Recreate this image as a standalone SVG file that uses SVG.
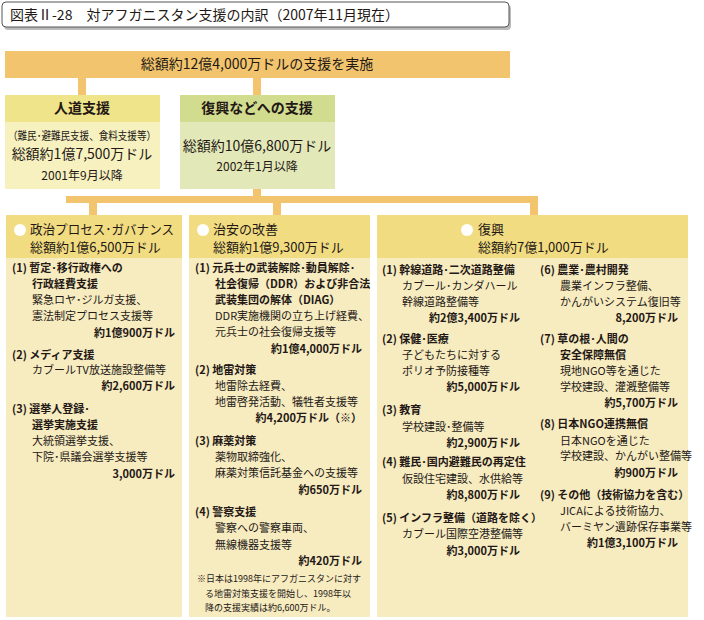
<svg xmlns="http://www.w3.org/2000/svg" width="704" height="620" viewBox="0 0 704 620">
<style>
text{font-family:"Noto Sans CJK JP","Noto Sans",sans-serif;fill:#231815}
.h{font-size:14px}
.hh{font-size:13px}
.b{font-size:11px;font-weight:bold}
.n{font-size:11px}
.r{font-size:11px;font-weight:bold;text-anchor:end}
.m{text-anchor:middle}
.s{font-size:9px}
.hdr{fill:#f2dc82}
.body{fill:#f7ebc0}
.conn{fill:#f2c46e}
</style>
<rect width="704" height="620" fill="#fff"/>
<g id="title">
<rect x="4" y="5" width="507" height="25" rx="4" fill="#bbb"/>
<rect x="2" y="2" width="507" height="25" rx="4" fill="#fff" stroke="#555" stroke-width="1"/>
<text x="10" y="20" class="h">図表Ⅱ-28　対アフガニスタン支援の内訳（2007年11月現在）</text>
</g>
<g id="connectors">
<rect x="78" y="78" width="8" height="17" class="conn"/>
<rect x="253" y="78" width="8" height="17" class="conn"/>
<rect x="253" y="189" width="8" height="10" class="conn"/>
<rect x="66" y="196" width="472" height="7" class="conn"/>
<rect x="89" y="196" width="8" height="19" class="conn"/>
<rect x="273" y="196" width="8" height="19" class="conn"/>
<rect x="530" y="196" width="8" height="19" class="conn"/>
</g>
<g id="total">
<rect x="5" y="51" width="505" height="27" fill="#f2c46e"/>
<text x="257" y="69" class="h m">総額約12億4,000万ドルの支援を実施</text>
</g>
<g id="humanitarian">
<rect x="5" y="95" width="155" height="94" fill="#f7f1c0"/>
<rect x="5" y="95" width="155" height="27" fill="#f0e48a"/>
<text x="82" y="113" class="h m" font-weight="bold">人道支援</text>
<text x="82" y="140" class="m" font-size="11" textLength="148" lengthAdjust="spacingAndGlyphs">（難民･避難民支援、食料支援等）</text>
<text x="82" y="159" class="h m">総額約1億7,500万ドル</text>
<text x="82" y="180" class="m" font-size="12">2001年9月以降</text>
</g>
<g id="reconstruction">
<rect x="180" y="95" width="155" height="94" fill="#e3e8b8"/>
<rect x="180" y="95" width="155" height="27" fill="#d2dc8f"/>
<text x="257" y="113" class="h m" font-weight="bold">復興などへの支援</text>
<text x="257" y="151" class="h m">総額約10億6,800万ドル</text>
<text x="257" y="171" class="m" font-size="12">2002年1月以降</text>
</g>
<g id="governance">
<rect x="6" y="215" width="176" height="402" class="body"/>
<rect x="6" y="215" width="176" height="43" class="hdr"/>
<circle cx="20" cy="230" r="6" fill="#fff"/>
<text x="30" y="234" class="hh" textLength="144" lengthAdjust="spacingAndGlyphs">政治プロセス･ガバナンス</text>
<text x="30" y="252" class="hh">総額約1億6,500万ドル</text>
<text x="12" y="272" class="b">(1) 暫定･移行政権への</text>
<text x="32" y="288" class="b">行政経費支援</text>
<text x="32" y="304" class="n">緊急ロヤ･ジルガ支援、</text>
<text x="32" y="320" class="n">憲法制定プロセス支援等</text>
<text x="175" y="337" class="r">約1億900万ドル</text>
<text x="12" y="359" class="b">(2) メディア支援</text>
<text x="32" y="374" class="n">カブールTV放送施設整備等</text>
<text x="175" y="390" class="r">約2,600万ドル</text>
<text x="12" y="413" class="b">(3) 選挙人登録･</text>
<text x="32" y="429" class="b">選挙実施支援</text>
<text x="32" y="445" class="n">大統領選挙支援、</text>
<text x="32" y="461" class="n">下院･県議会選挙支援等</text>
<text x="175" y="478" class="r">3,000万ドル</text>
</g>
<g id="security">
<rect x="189" y="215" width="181" height="402" class="body"/>
<rect x="189" y="215" width="181" height="43" class="hdr"/>
<circle cx="203" cy="230" r="6" fill="#fff"/>
<text x="213" y="234" class="hh">治安の改善</text>
<text x="213" y="252" class="hh">総額約1億9,300万ドル</text>
<text x="195" y="272" class="b">(1) 元兵士の武装解除･動員解除･</text>
<text x="215" y="288" class="b">社会復帰（DDR）および非合法</text>
<text x="215" y="304" class="b">武装集団の解体（DIAG）</text>
<text x="215" y="320" class="n">DDR実施機関の立ち上げ経費、</text>
<text x="215" y="336" class="n">元兵士の社会復帰支援等</text>
<text x="362" y="353" class="r">約1億4,000万ドル</text>
<text x="195" y="374" class="b">(2) 地雷対策</text>
<text x="215" y="390" class="n">地雷除去経費、</text>
<text x="215" y="406" class="n">地雷啓発活動、犠牲者支援等</text>
<text x="362" y="422" class="r">約4,200万ドル（※）</text>
<text x="195" y="445" class="b">(3) 麻薬対策</text>
<text x="215" y="461" class="n">薬物取締強化、</text>
<text x="215" y="477" class="n">麻薬対策信託基金への支援等</text>
<text x="362" y="494" class="r">約650万ドル</text>
<text x="195" y="516" class="b">(4) 警察支援</text>
<text x="215" y="532" class="n">警察への警察車両、</text>
<text x="215" y="549" class="n">無線機器支援等</text>
<text x="362" y="565" class="r">約420万ドル</text>
<text x="197" y="582" class="s">※日本は1998年にアフガニスタンに対す</text>
<text x="205" y="597" class="s">る地雷対策支援を開始し、1998年以</text>
<text x="205" y="611" class="s">降の支援実績は約6,600万ドル。</text>
</g>
<g id="recovery">
<rect x="377" y="215" width="311" height="402" class="body"/>
<rect x="377" y="215" width="311" height="43" class="hdr"/>
<circle cx="467" cy="230" r="6" fill="#fff"/>
<text x="478" y="234" class="hh">復興</text>
<text x="478" y="252" class="hh">総額約7億1,000万ドル</text>
<text x="382" y="274" class="b">(1) 幹線道路･二次道路整備</text>
<text x="402" y="290" class="n">カブール･カンダハール</text>
<text x="402" y="306" class="n">幹線道路整備等</text>
<text x="520" y="322" class="r">約2億3,400万ドル</text>
<text x="382" y="343" class="b">(2) 保健･医療</text>
<text x="402" y="359" class="n">子どもたちに対する</text>
<text x="402" y="375" class="n">ポリオ予防接種等</text>
<text x="520" y="391" class="r">約5,000万ドル</text>
<text x="382" y="414" class="b">(3) 教育</text>
<text x="402" y="431" class="n">学校建設･整備等</text>
<text x="520" y="447" class="r">約2,900万ドル</text>
<text x="382" y="466" class="b">(4) 難民･国内避難民の再定住</text>
<text x="402" y="483" class="n">仮設住宅建設、水供給等</text>
<text x="520" y="499" class="r">約8,800万ドル</text>
<text x="382" y="522" class="b">(5) インフラ整備（道路を除く）</text>
<text x="402" y="538" class="n">カブール国際空港整備等</text>
<text x="520" y="555" class="r">約3,000万ドル</text>
<text x="540" y="274" class="b">(6) 農業･農村開発</text>
<text x="560" y="290" class="n">農業インフラ整備、</text>
<text x="560" y="306" class="n">かんがいシステム復旧等</text>
<text x="678" y="322" class="r">8,200万ドル</text>
<text x="540" y="343" class="b">(7) 草の根･人間の</text>
<text x="560" y="359" class="b">安全保障無償</text>
<text x="560" y="375" class="n">現地NGO等を通じた</text>
<text x="560" y="391" class="n">学校建設、灌漑整備等</text>
<text x="678" y="407" class="r">約5,700万ドル</text>
<text x="540" y="428" class="b">(8) 日本NGO連携無償</text>
<text x="560" y="445" class="n">日本NGOを通じた</text>
<text x="560" y="460" class="n">学校建設、かんがい整備等</text>
<text x="678" y="477" class="r">約900万ドル</text>
<text x="540" y="499" class="b">(9) その他（技術協力を含む）</text>
<text x="560" y="515" class="n">JICAによる技術協力、</text>
<text x="560" y="531" class="n">バーミヤン遺跡保存事業等</text>
<text x="678" y="547" class="r">約1億3,100万ドル</text>
</g>
</svg>
